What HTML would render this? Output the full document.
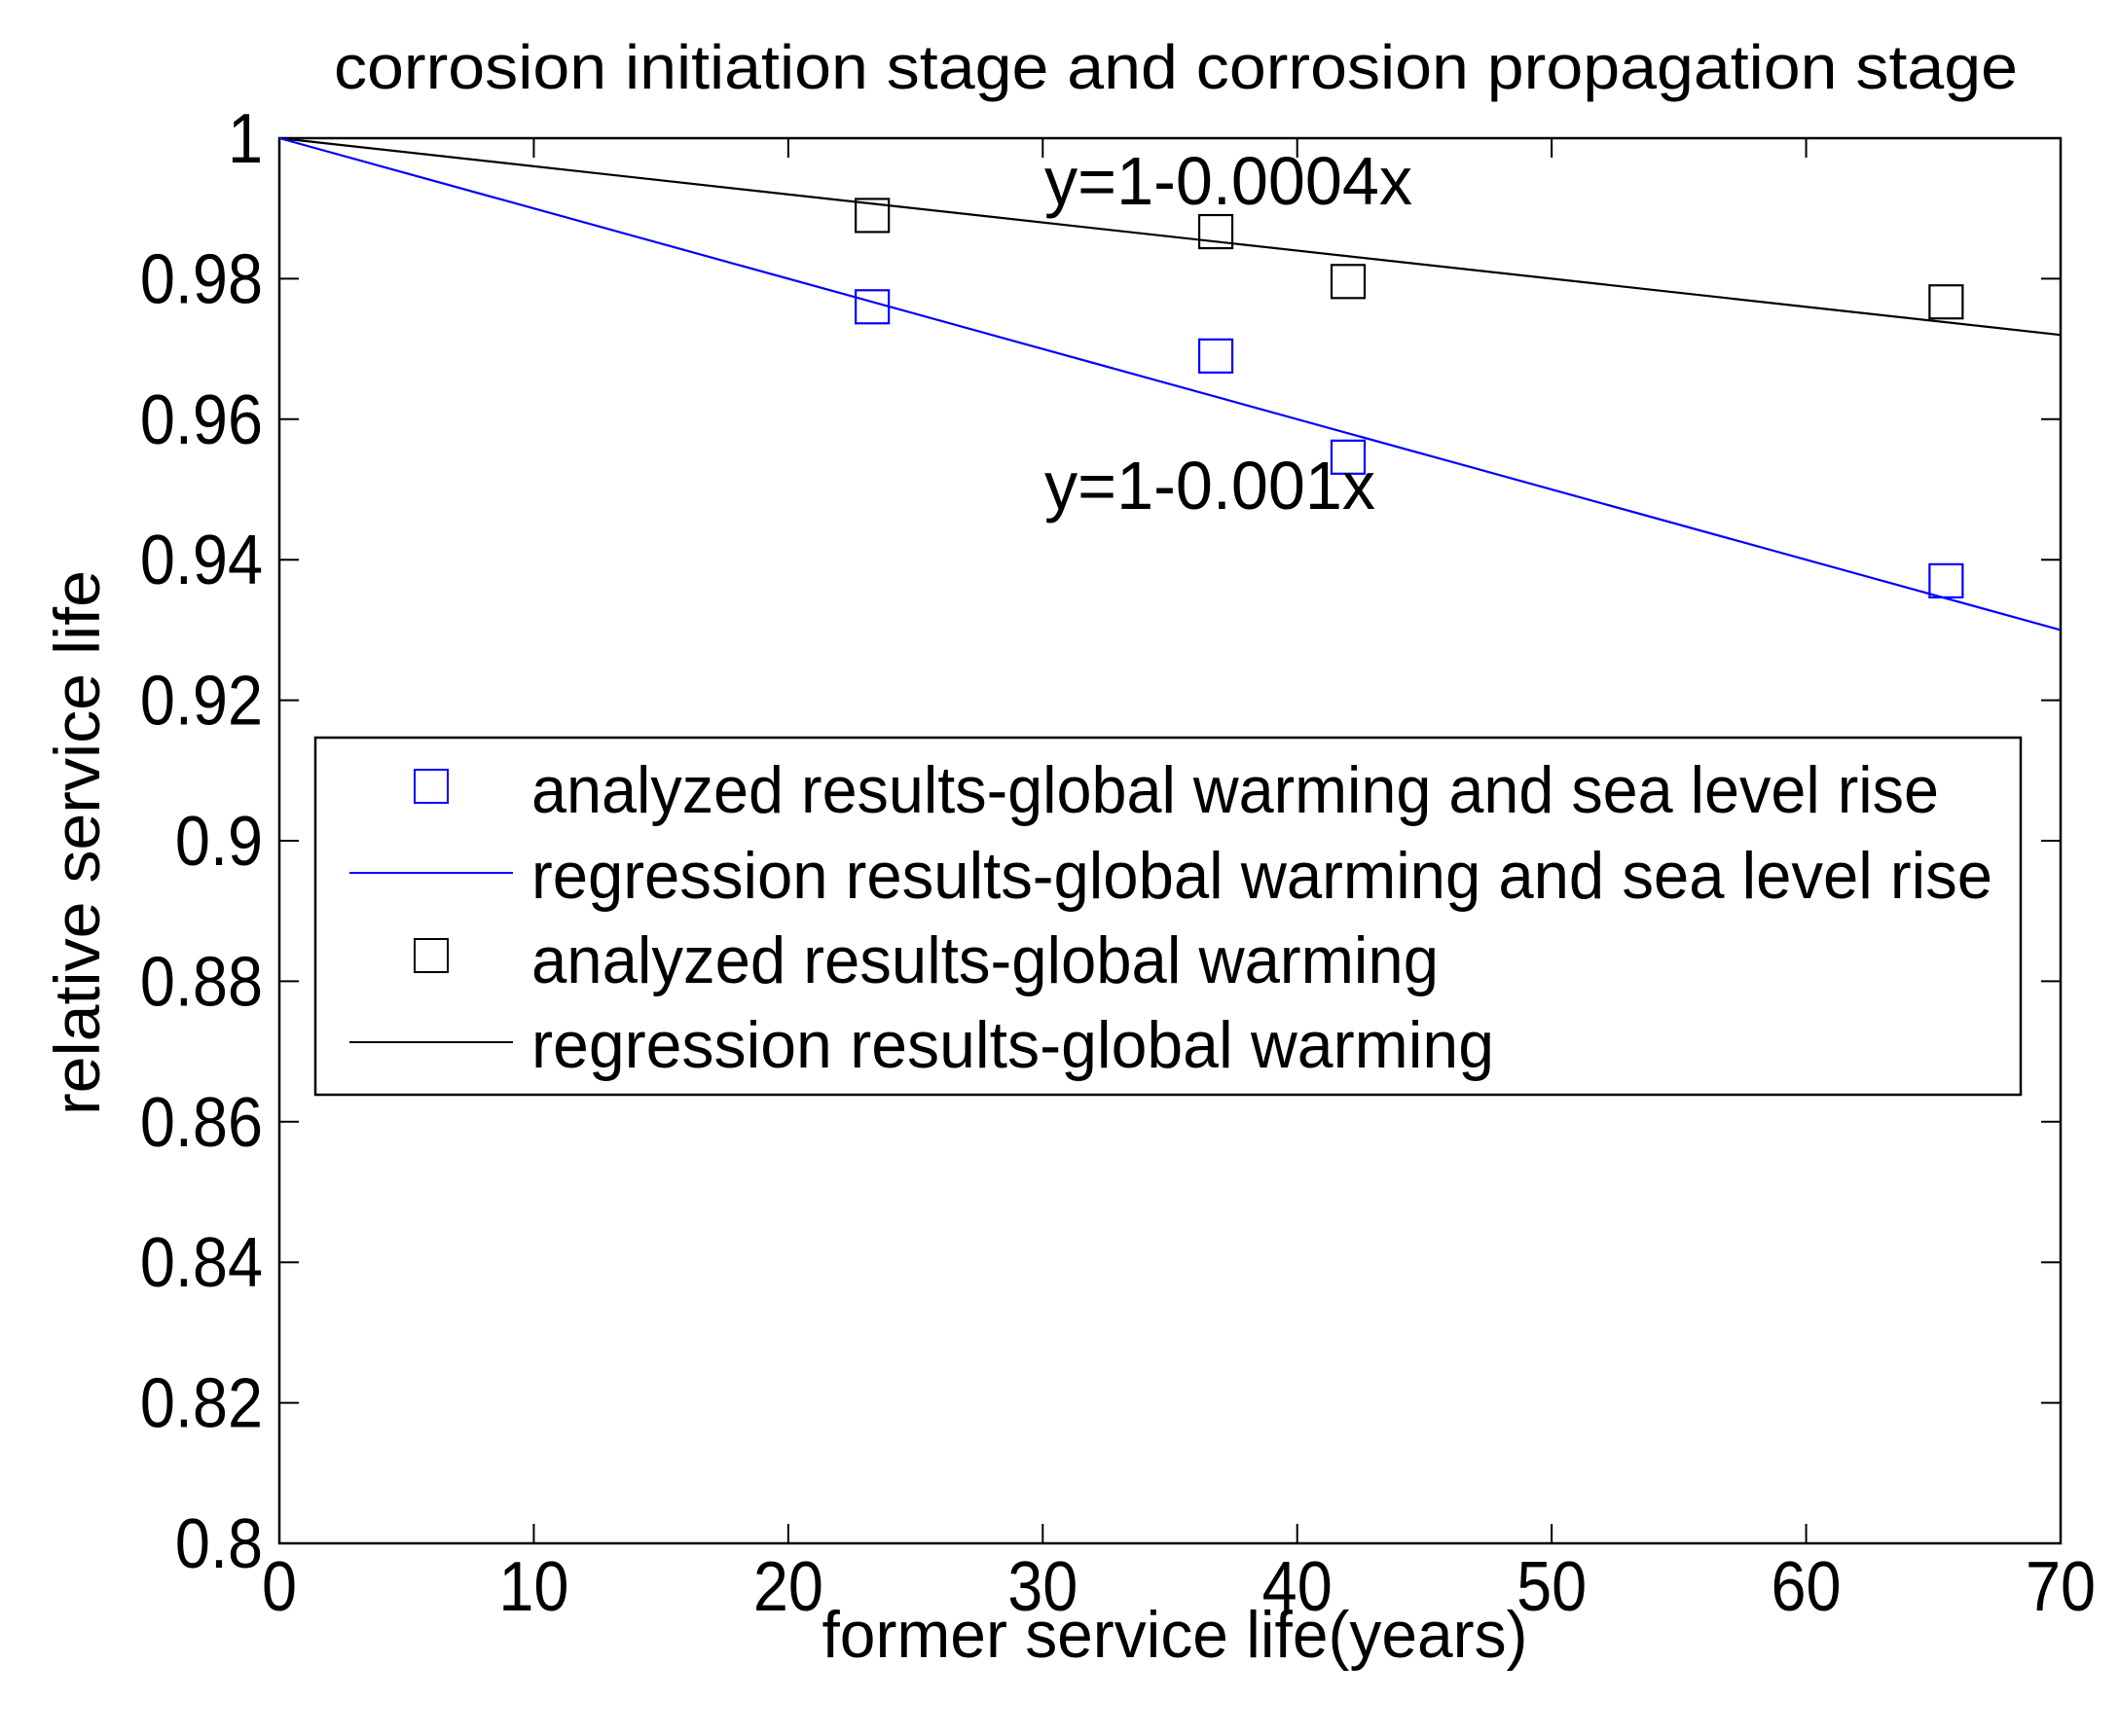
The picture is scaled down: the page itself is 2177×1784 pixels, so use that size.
<!DOCTYPE html>
<html><head><meta charset="utf-8"><style>
html,body{margin:0;padding:0;background:#fff;}
svg{display:block;font-family:"Liberation Sans",Arial,sans-serif;}
</style></head><body>
<svg id="chart" width="2177" height="1784" viewBox="0 0 2177 1784" xmlns="http://www.w3.org/2000/svg">
<rect x="0" y="0" width="2177" height="1784" fill="#fff"/>
<text x="1208" y="91" font-size="64" text-anchor="middle" textLength="1730" lengthAdjust="spacingAndGlyphs">corrosion initiation  stage and corrosion propagation  stage</text>
<g id="axes"></g>
<g id="series"></g>
<text x="1073" y="210" font-size="70" textLength="378" lengthAdjust="spacingAndGlyphs">y=1-0.0004x</text>
<text x="1073" y="523" font-size="70" textLength="340" lengthAdjust="spacingAndGlyphs">y=1-0.001x</text>
<g>
<rect x="324" y="758" width="1752" height="367" fill="#fff" stroke="#000" stroke-width="2.5"/>
<rect x="426" y="791" width="34" height="34" fill="none" stroke="#0000ff" stroke-width="2"/>
<text x="546" y="835" font-size="68" textLength="1446" lengthAdjust="spacingAndGlyphs">analyzed results-global warming and sea level rise</text>
<line x1="359" y1="897" x2="527" y2="897" stroke="#0000ff" stroke-width="2"/>
<text x="546" y="923" font-size="68" textLength="1501" lengthAdjust="spacingAndGlyphs">regression results-global warming and sea level rise</text>
<rect x="426" y="965" width="34" height="34" fill="none" stroke="#000" stroke-width="2"/>
<text x="546" y="1010" font-size="68" textLength="932" lengthAdjust="spacingAndGlyphs">analyzed results-global warming</text>
<line x1="359" y1="1071" x2="527" y2="1071" stroke="#000" stroke-width="2"/>
<text x="546" y="1097" font-size="68" textLength="989" lengthAdjust="spacingAndGlyphs">regression results-global warming</text>
</g>
<text x="0" y="0" font-size="66" text-anchor="middle" transform="translate(102,866) rotate(-90)" textLength="560" lengthAdjust="spacingAndGlyphs">relative service life</text>
<text x="1207" y="1703" font-size="68" text-anchor="middle" textLength="725" lengthAdjust="spacingAndGlyphs">former service life(years)</text>
</svg>
<script>
const xTicks = [0,10,20,30,40,50,60,70];
const yTicks = [0.8,0.82,0.84,0.86,0.88,0.9,0.92,0.94,0.96,0.98,1];
const yTickLabels = ["0.8","0.82","0.84","0.86","0.88","0.9","0.92","0.94","0.96","0.98","1"];
const analyzedX = [23.3,36.8,42,65.5];
const analyzedSeaLevel = [0.976,0.969,0.9546,0.937];
const analyzedWarming = [0.989,0.9867,0.9796,0.9767];
const regSlopeSeaLevel = [0.001];
const regSlopeWarming = [0.0004];
const regX = [0,70];

const L=287,R=2117,T=142,B=1586;
const sx=v=>L+(v-0)/(70-0)*(R-L);
const sy=v=>B-(v-0.8)/(1-0.8)*(B-T);
const NS="http://www.w3.org/2000/svg";
function mk(tag,attrs,parent){const e=document.createElementNS(NS,tag);for(const k in attrs)e.setAttribute(k,attrs[k]);parent.appendChild(e);return e;}
function condense(t,f){const w=t.getComputedTextLength();if(w>0){t.setAttribute('textLength',w*f);t.setAttribute('lengthAdjust','spacingAndGlyphs');}}
const axes=document.getElementById('axes'), series=document.getElementById('series');
const frame=mk('rect',{x:L,y:T,width:R-L,height:B-T,fill:'none',stroke:'#000','stroke-width':2.5},axes);


xTicks.forEach(v=>{
  const x=sx(v);
  const t1=mk('line',{x1:x,y1:B,x2:x,y2:B-20,stroke:'#000','stroke-width':2},axes);
  
  
  const t2=mk('line',{x1:x,y1:T,x2:x,y2:T+20,stroke:'#000','stroke-width':2},axes);
  
  
  const lb=mk('text',{x:x,y:1655,'font-size':72,'text-anchor':'middle'},axes);
  lb.textContent=String(v);
  
  
  condense(lb,0.9);
});
yTicks.forEach((v,i)=>{
  const y=sy(v);
  const t1=mk('line',{x1:L,y1:y,x2:L+20,y2:y,stroke:'#000','stroke-width':2},axes);
  
  
  const t2=mk('line',{x1:R,y1:y,x2:R-20,y2:y,stroke:'#000','stroke-width':2},axes);
  
  
  const lb=mk('text',{x:270,y:y+25,'font-size':72,'text-anchor':'end'},axes);
  lb.textContent=yTickLabels[i];
  
  
  condense(lb,0.9);
});
function regLine(slope,color,name){
  const pts=regX.map(x=>sx(x)+','+sy(1-slope*x)).join(' ');
  const p=mk('polyline',{points:pts,fill:'none',stroke:color,'stroke-width':2.2},series);
  
  
}
regLine(regSlopeWarming[0],'#000','regression-line-warming');
regLine(regSlopeSeaLevel[0],'#0000ff','regression-line-sea-level');
function markers(vals,color,name){
  vals.forEach((v,i)=>{
    const m=mk('rect',{x:sx(analyzedX[i])-17,y:sy(v)-17,width:34,height:34,fill:'none',stroke:color,'stroke-width':2.2},series);
    
    
  });
}
markers(analyzedWarming,'#000','marker-warming');
markers(analyzedSeaLevel,'#0000ff','marker-sea-level');
</script>
</body></html>
